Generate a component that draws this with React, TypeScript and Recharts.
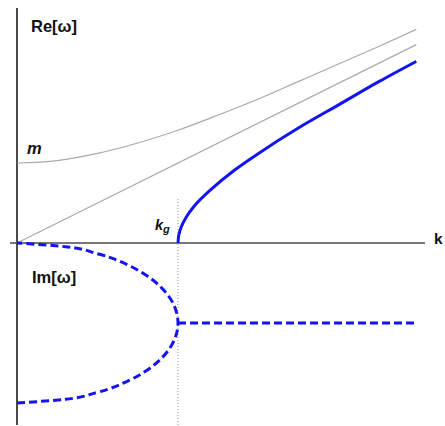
import { LineChart, Line, XAxis, YAxis, ReferenceLine } from 'recharts';

// k in units of k_g, omega in units of m
const hyperK = [0, 0.25, 0.5, 0.75, 1, 1.25, 1.5, 1.75, 2, 2.25, 2.48];
const hyperW = [1, 1.03, 1.12, 1.25, 1.41, 1.6, 1.8, 2.02, 2.24, 2.46, 2.67];

const lightK = [0, 2.48];
const lightW = [0, 2.48];

const reK = [1, 1.005, 1.02, 1.05, 1.1, 1.2, 1.35, 1.5, 1.75, 2, 2.25, 2.48];
const reW = [0, 0.1, 0.2, 0.32, 0.46, 0.66, 0.91, 1.12, 1.44, 1.73, 2.02, 2.27];

// imaginary part below k_g: closed loop, ordered bottom to top
const imLoopK = [0, 0.3, 0.5, 0.7, 0.8, 0.9, 0.95, 0.98, 1, 0.98, 0.95, 0.9, 0.8, 0.7, 0.5, 0.3, 0];
const imLoopW = [-2, -1.954, -1.866, -1.714, -1.6, -1.436, -1.312, -1.199, -1, -0.801, -0.688, -0.564, -0.4, -0.286, -0.134, -0.046, 0];

const imFlatK = [1, 2.48];
const imFlatW = [-1, -1];

const zip = (ks: number[], ws: number[]) => ks.map((k, i) => ({ k, w: ws[i] }));

const BLUE = '#1414f2';
const GRAY = '#aaaaaa';
const AXIS = '#4a4a4a';

export default function App() {
  return (
    <div style={{ position: 'absolute', left: 0, top: 0, width: 445, height: 426, background: '#fff' }}>
      <LineChart width={445} height={426} margin={{ top: 8, right: 20, bottom: 1, left: 10 }}>
        <XAxis type="number" dataKey="k" domain={[-0.0435, 2.5342]} hide allowDataOverflow />
        <YAxis type="number" dataKey="w" domain={[-2.275, 2.9375]} hide allowDataOverflow />
        <ReferenceLine x={0} stroke={AXIS} strokeWidth={2} />
        <ReferenceLine y={0} stroke={AXIS} strokeWidth={1.6} />
        <ReferenceLine segment={[{ x: 1, y: 0.55 }, { x: 1, y: -2.275 }]} stroke="#999" strokeDasharray="1 2" />
        <Line data={zip(hyperK, hyperW)} dataKey="w" type="monotone" stroke={GRAY} strokeWidth={1.2} dot={false} isAnimationActive={false} />
        <Line data={zip(lightK, lightW)} dataKey="w" type="linear" stroke={GRAY} strokeWidth={1.2} dot={false} isAnimationActive={false} />
        <Line data={zip(reK, reW)} dataKey="w" type="monotoneY" stroke={BLUE} strokeWidth={3} dot={false} isAnimationActive={false} />
        <Line data={zip(imLoopK, imLoopW)} dataKey="w" type="monotoneY" stroke={BLUE} strokeWidth={3} strokeDasharray="8 4" dot={false} isAnimationActive={false} />
        <Line data={zip(imFlatK, imFlatW)} dataKey="w" type="linear" stroke={BLUE} strokeWidth={3} strokeDasharray="8 4" dot={false} isAnimationActive={false} />
      </LineChart>
      <svg width={445} height={426} style={{ position: 'absolute', left: 0, top: 0, pointerEvents: 'none' }}
        fontFamily="'Liberation Sans', Arial, sans-serif" fontWeight="bold" fill="#111">
        <text x={31} y={32} fontSize={16.5}>Re[ω]</text>
        <text x={32} y={283} fontSize={16.5}>Im[ω]</text>
        <text x={27} y={154} fontSize={16.5} fontStyle="italic">m</text>
        <text x={155} y={230} fontSize={14.5} fontStyle="italic">k<tspan fontSize={11} dy={3}>g</tspan></text>
        <text x={434} y={244} fontSize={15.5}>k</text>
      </svg>
    </div>
  );
}
